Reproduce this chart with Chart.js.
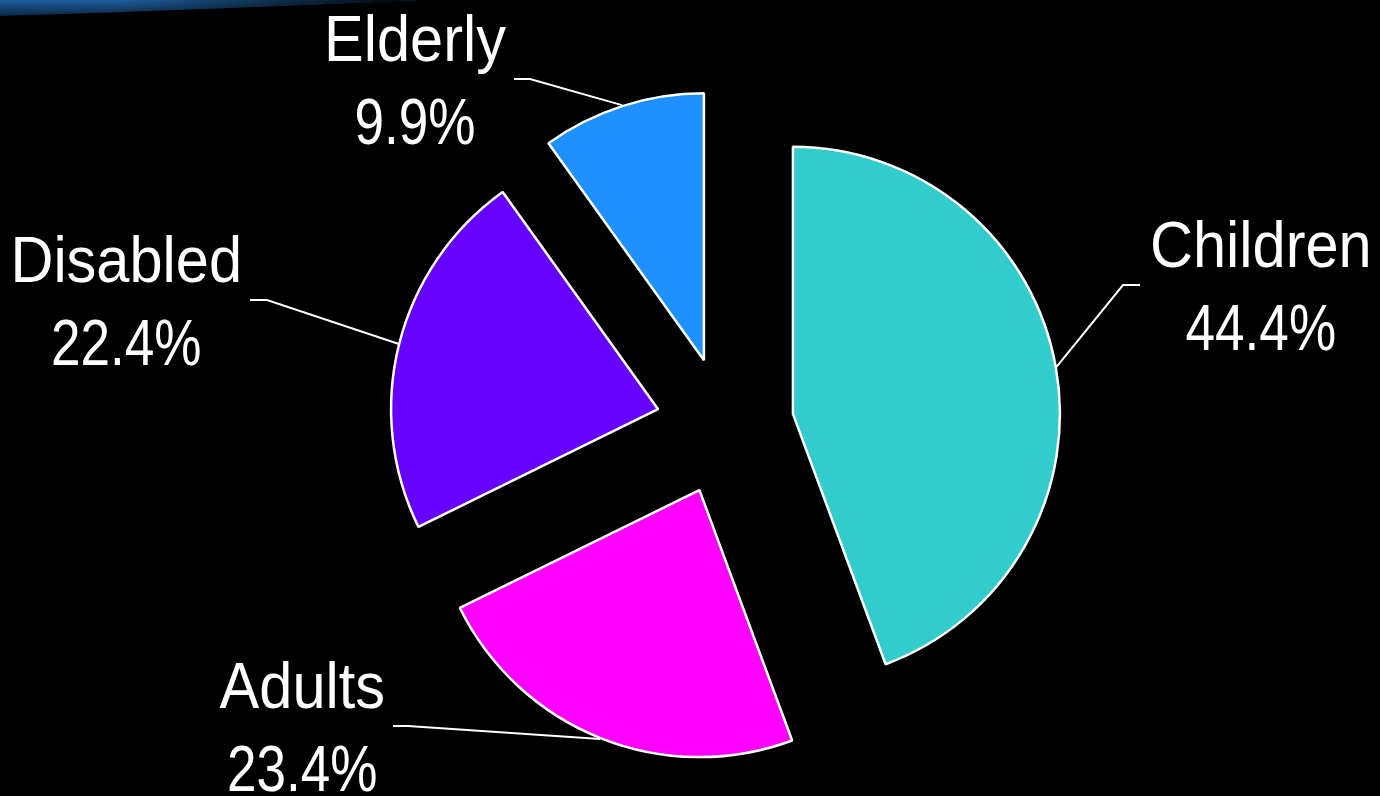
<!DOCTYPE html>
<html>
<head>
<meta charset="utf-8">
<script src="https://cdn.jsdelivr.net/npm/chart.js@4"></script>
<style>
  html, body { margin: 0; padding: 0; background: #000; }
  #pieChart { display: block; }
</style>
</head>
<body>
<canvas id="pieChart" width="1380" height="796"></canvas>
<script>
const categories = ['Children', 'Adults', 'Disabled', 'Elderly'];
const shares = [44.4, 23.4, 22.4, 9.9];
const sliceColors = ['#33CCCC', '#FF00FF', '#6600FF', '#1E90FF'];

// where each label's leader elbow sits, relative to the pie centre, and which way the short run goes
const labelLayout = [
  { elbow: [398, -141], run: 17 },
  { elbow: [-317, 300], run: -15 },
  { elbow: [-458, -126], run: -17 },
  { elbow: [-195, -347], run: -16 }
];

const EXPLODE = 69;
const LABEL_FONT = '64px "Liberation Sans", Arial, sans-serif';
const NAME_STRETCH = 0.93;
const PCT_STRETCH = 0.83;

// pull every slice out from the centre along its middle angle
const explodePlugin = {
  id: 'explode',
  afterDatasetUpdate(chart, args) {
    args.meta.data.forEach(arc => {
      const mid = (arc.startAngle + arc.endAngle) / 2;
      arc.x += Math.cos(mid) * EXPLODE;
      arc.y += Math.sin(mid) * EXPLODE;
    });
  }
};

// the blue swoosh in the top-left corner of the slide
const swooshPlugin = {
  id: 'swoosh',
  beforeDraw(chart) {
    const ctx = chart.ctx;
    ctx.save();
    ctx.beginPath();
    ctx.moveTo(0, 0);
    ctx.lineTo(420, 0);
    ctx.quadraticCurveTo(220, 9, 0, 16);
    ctx.closePath();
    const g = ctx.createLinearGradient(0, 0, 0, 16);
    g.addColorStop(0, '#1f5f9f');
    g.addColorStop(1, '#0a2846');
    ctx.fillStyle = g;
    ctx.fill();
    const h = ctx.createLinearGradient(120, 0, 430, 0);
    h.addColorStop(0, 'rgba(0,0,0,0)');
    h.addColorStop(1, 'rgba(0,0,0,1)');
    ctx.fillStyle = h;
    ctx.fill();
    ctx.restore();
  }
};

const calloutPlugin = {
  id: 'callouts',
  afterDatasetsDraw(chart) {
    const ctx = chart.ctx;
    const meta = chart.getDatasetMeta(0);
    const area = chart.chartArea;
    const cx = (area.left + area.right) / 2;
    const cy = (area.top + area.bottom) / 2;
    ctx.save();
    ctx.strokeStyle = '#ffffff';
    ctx.lineWidth = 2;
    ctx.fillStyle = '#ffffff';
    ctx.font = LABEL_FONT;
    ctx.textAlign = 'center';
    ctx.textBaseline = 'alphabetic';
    meta.data.forEach((arc, i) => {
      const lay = labelLayout[i];
      const mid = (arc.startAngle + arc.endAngle) / 2;
      const r = arc.outerRadius + 1;
      const sx = arc.x + Math.cos(mid) * r;
      const sy = arc.y + Math.sin(mid) * r;
      const ex = cx + lay.elbow[0];
      const ey = cy + lay.elbow[1];
      const tx = ex + lay.run;
      ctx.beginPath();
      ctx.moveTo(sx, sy);
      ctx.lineTo(ex, ey);
      ctx.lineTo(tx, ey);
      ctx.stroke();

      const lines = [
        { text: categories[i], stretch: NAME_STRETCH },
        { text: shares[i].toFixed(1) + '%', stretch: PCT_STRETCH }
      ];
      const w = Math.max(...lines.map(l => ctx.measureText(l.text).width * l.stretch));
      const centerX = lay.run > 0 ? tx + 10 + w / 2 : tx - 8 - w / 2;
      lines.forEach((l, k) => {
        ctx.save();
        ctx.translate(centerX, ey - 18 + k * 83);
        ctx.scale(l.stretch, 1);
        ctx.fillText(l.text, 0, 0);
        ctx.restore();
      });
    });
    ctx.restore();
  }
};

const ctxPie = document.getElementById('pieChart').getContext('2d');
new Chart(ctxPie, {
  type: 'pie',
  data: {
    labels: categories,
    datasets: [{
      data: shares,
      backgroundColor: sliceColors,
      borderColor: '#ffffff',
      borderWidth: 2.5,
      radius: 267
    }]
  },
  options: {
    responsive: false,
    animation: false,
    layout: { padding: { left: 70, right: 0, top: 56, bottom: 0 } },
    plugins: {
      legend: { display: false },
      tooltip: { enabled: false }
    }
  },
  plugins: [swooshPlugin, explodePlugin, calloutPlugin]
});
</script>
</body>
</html>
